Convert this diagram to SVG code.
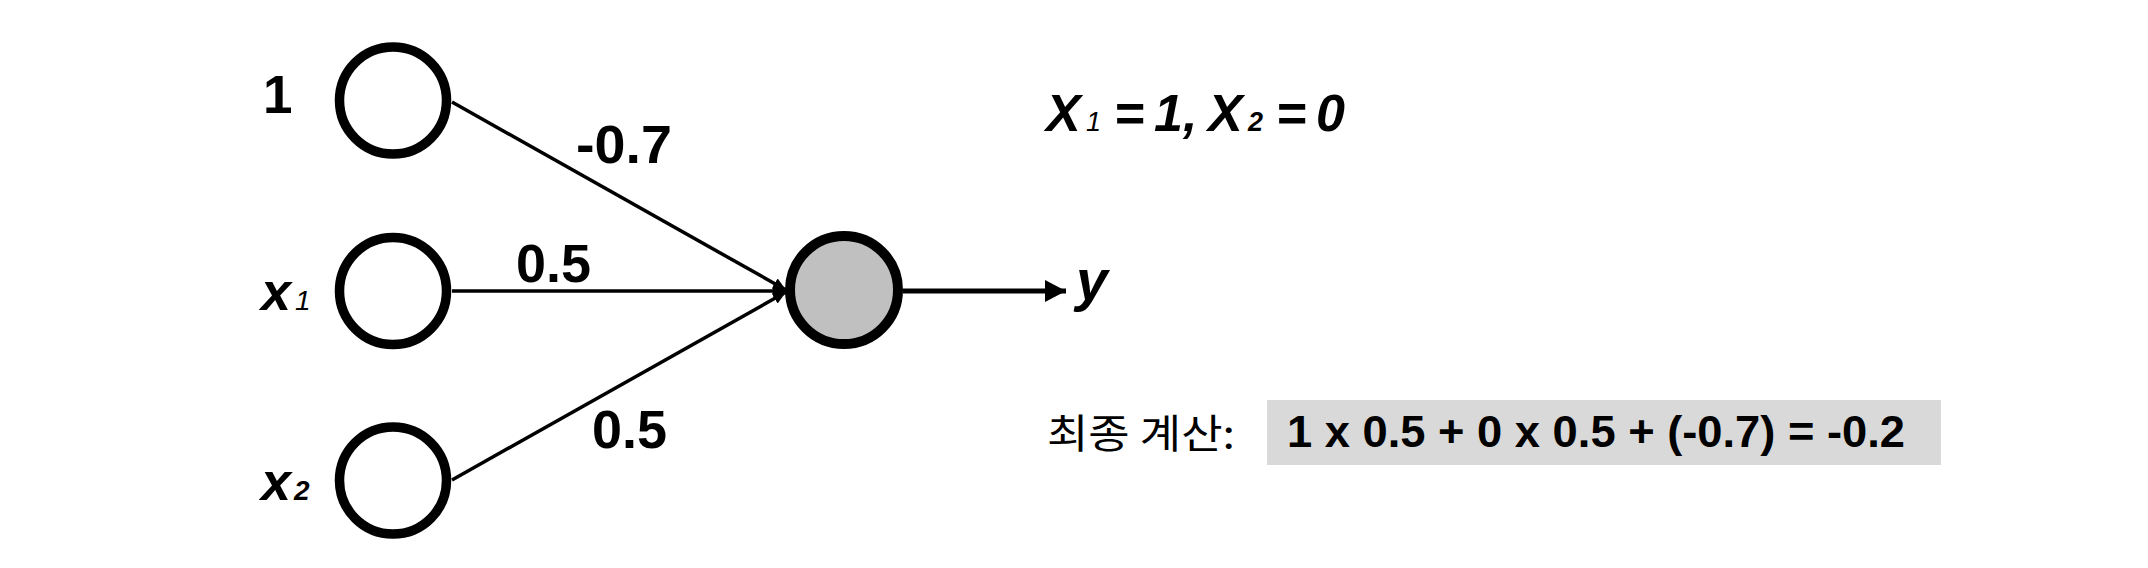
<svg xmlns="http://www.w3.org/2000/svg" width="2148" height="568" viewBox="0 0 2148 568">
<style>
.node{fill:#fff;stroke:#000;stroke-width:9.5}
.out{fill:#c0c0c0;stroke:#000;stroke-width:10}
.edge{fill:none;stroke:#000;stroke-width:3.5}
.lbl{font-family:"Liberation Sans",Arial,sans-serif;font-weight:bold;fill:#000}
.it{font-style:italic}
.ko{font-family:"Noto Sans CJK KR","Liberation Sans",sans-serif;fill:#000}
</style>
<defs>
<marker id="ah" markerUnits="userSpaceOnUse" markerWidth="14" markerHeight="12" refX="13" refY="6" orient="auto"><path d="M0,0 L13,6 L0,12 Z" fill="#000"/></marker>
<marker id="ah2" markerUnits="userSpaceOnUse" markerWidth="22" markerHeight="24" refX="21" refY="11" orient="auto"><path d="M0,0 L21,11 L0,22 Z" fill="#000"/></marker>
</defs>
<g id="connectors">
<path class="edge" d="M452,102 L786,290" marker-end="url(#ah)"/>
<path class="edge" d="M452,291 L786,291" marker-end="url(#ah)"/>
<path class="edge" d="M452,480 L786,292" marker-end="url(#ah)"/>
<path class="edge" style="stroke-width:5" d="M903,291 L1066,291" marker-end="url(#ah2)"/>
<text class="lbl" x="576" y="163" font-size="53" textLength="96" lengthAdjust="spacingAndGlyphs">-0.7</text>
<text class="lbl" x="516" y="282" font-size="53" textLength="75" lengthAdjust="spacingAndGlyphs">0.5</text>
<text class="lbl" x="592" y="448" font-size="53" textLength="75" lengthAdjust="spacingAndGlyphs">0.5</text>
</g>
<g id="node-bias">
<circle class="node" cx="393" cy="100.5" r="53.5"/>
<text class="lbl" x="263" y="113" font-size="53">1</text>
</g>
<g id="node-x1">
<circle class="node" cx="393" cy="291" r="53.5"/>
<text class="lbl it" x="261" y="310" font-size="54">x<tspan x="295" font-size="28" font-weight="normal">1</tspan></text>
</g>
<g id="node-x2">
<circle class="node" cx="393" cy="480.5" r="53.5"/>
<text class="lbl it" x="261" y="500" font-size="54">x<tspan x="294" font-size="28">2</tspan></text>
</g>
<g id="node-out">
<circle class="out" cx="844" cy="290" r="54"/>
</g>
<g id="label-y">
<text class="lbl it" x="1076" y="300" font-size="57">y</text>
</g>
<g id="label-inputs">
<text class="lbl it" y="131" font-size="52"><tspan x="1046">X</tspan><tspan x="1086" font-size="27" font-weight="normal">1</tspan><tspan x="1114">=</tspan><tspan x="1154">1,</tspan><tspan x="1208">X</tspan><tspan x="1248" font-size="27">2</tspan><tspan x="1276">=</tspan><tspan x="1316">0</tspan></text>
</g>
<g id="calc">
<text class="ko" x="1047" y="448" font-size="40" textLength="188" lengthAdjust="spacingAndGlyphs">최종 계산:</text>
<rect x="1267" y="400" width="674" height="65" fill="#d9d9d9"/>
<text class="lbl" x="1287" y="447" font-size="44" textLength="618" lengthAdjust="spacingAndGlyphs">1 x 0.5 + 0 x 0.5 + (-0.7) = -0.2</text>
</g>
</svg>
